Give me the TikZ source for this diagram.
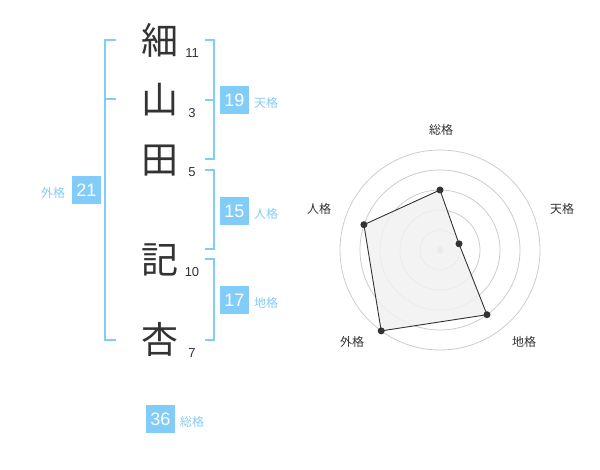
\documentclass[tikz,border=0pt]{standalone}
\usepackage{fontspec}
\setmainfont{Liberation Sans}
\newfontfamily\jp{Noto Sans CJK JP}
\definecolor{kblue}{HTML}{82CCFA}
\definecolor{kdark}{HTML}{333333}
\definecolor{kgrid}{HTML}{CCCCCC}
\definecolor{kfill}{HTML}{F1F1F1}
\begin{document}
\begin{tikzpicture}[x=1pt,y=-1pt,
  kanji/.style={font=\jp\fontsize{37}{37}\selectfont, text=kdark, inner sep=0pt},
  strokes/.style={font=\fontsize{13}{13}\selectfont, text=kdark, inner sep=0pt},
  valbox/.style={fill=kblue, text=white, font=\fontsize{18}{18}\selectfont, minimum width=29pt, minimum height=28pt, inner sep=0pt},
  kaku/.style={text=kblue, font=\jp\fontsize{12}{12}\selectfont, inner sep=0pt},
  bracket/.style={draw=kblue, line width=2pt},
  ring/.style={draw=kgrid, line width=0.8pt},
  rlabel/.style={text=kdark, font=\jp\fontsize{12}{12}\selectfont, inner sep=0pt},
  vdot/.style={circle, fill=kdark, inner sep=0pt, minimum size=7pt}]
\useasboundingbox (0,0) rectangle (600,470);
% name characters
\node[kanji] (c1) at (160,40) {細};
\node[kanji] (c2) at (160,100) {山};
\node[kanji] (c3) at (160,161) {田};
\node[kanji] (c4) at (160,260) {記};
\node[kanji] (c5) at (160,339) {杏};
% stroke counts
\node[strokes] (n1) at (192,53) {11};
\node[strokes] (n2) at (192,113) {3};
\node[strokes] (n3) at (192,172) {5};
\node[strokes] (n4) at (192,272) {10};
\node[strokes] (n5) at (192,353) {7};
% brackets
\draw[bracket] (116,40) -- (105,40) -- (105,340) -- (116,340);
\draw[bracket] (105,99.5) -- (116,99.5);
\draw[bracket] (205,40) -- (214,40) -- (214,159.5) -- (205,159.5);
\draw[bracket] (205,100) -- (214,100);
\draw[bracket] (205,170) -- (214,170) -- (214,249.5) -- (205,249.5);
\draw[bracket] (205,259.5) -- (214,259.5) -- (214,340) -- (205,340);
% values
\node[valbox] (v21) at (86.5,190) {21};
\node[kaku] (l21) at (53,193) {外格};
\node[valbox] (v19) at (234.5,100) {19};
\node[kaku] (l19) at (266,103) {天格};
\node[valbox] (v15) at (234.5,211) {15};
\node[kaku] (l15) at (266,214) {人格};
\node[valbox] (v17) at (234.5,300) {17};
\node[kaku] (l17) at (266,303) {地格};
\node[valbox] (v36) at (160.5,419) {36};
\node[kaku] (l36) at (192,422) {総格};
% radar chart
\coordinate (O) at (440,250);
\foreach \r in {20,40,60,80,100} \draw[ring] (O) circle[radius=\r];
\fill[kgrid] (O) circle[radius=3.5];
\coordinate (pS) at (440,190);
\coordinate (pT) at (459.0,243.8);
\coordinate (pC) at (487.0,314.7);
\coordinate (pG) at (381.2,330.9);
\coordinate (pJ) at (363.9,224.7);
\draw[kdark, line width=0.9pt, fill=kfill, fill opacity=0.85] (pS) -- (pT) -- (pC) -- (pG) -- (pJ) -- cycle;
\foreach \p in {pS,pT,pC,pG,pJ} \node[vdot] at (\p) {};
\node[rlabel] (rS) at (441,130) {総格};
\node[rlabel] (rT) at (562,209) {天格};
\node[rlabel] (rC) at (524,342) {地格};
\node[rlabel] (rG) at (352,342) {外格};
\node[rlabel] (rJ) at (319,209) {人格};
\end{tikzpicture}
\end{document}
